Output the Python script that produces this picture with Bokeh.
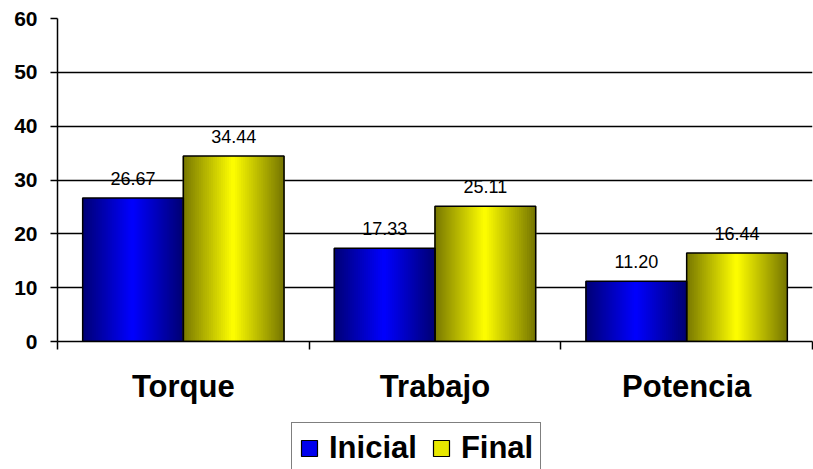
import numpy as np
from bokeh.plotting import figure
from bokeh.layouts import column
from bokeh.models import FixedTicker, Legend, LegendItem, ColumnDataSource, Range1d
from bokeh.embed import file_html
from bokeh.resources import INLINE
from bokeh.core.properties import value

categories = ["Torque", "Trabajo", "Potencia"]
inicial = [26.67, 17.33, 11.20]
final = [34.44, 25.11, 16.44]
y_ticks = [0, 10, 20, 30, 40, 50, 60]
series_names = ["Inicial", "Final"]

FONT = "Liberation Sans"

p = figure(width=813, height=410, output_backend="svg", toolbar_location=None,
           x_range=Range1d(0, 3), y_range=Range1d(0, 60),
           min_border_left=57, min_border_right=1, min_border_top=18,
           min_border_bottom=69)
p.outline_line_color = None
p.background_fill_color = "white"
p.border_fill_color = "white"

GAP = 0.1
BW = 0.4
N = 50


def gradient_strips(vals, offset, dark, bright):
    xs, tops, cols = [], [], []
    w = BW / N
    for i, v in enumerate(vals):
        for k in range(N):
            t = abs(2 * (k + 0.5) / N - 1)
            c = [int(round(b - (b - d) * t)) for b, d in zip(bright, dark)]
            xs.append(i + offset + (k + 0.5) * w)
            tops.append(v)
            cols.append("#%02x%02x%02x" % tuple(c))
    src = ColumnDataSource(dict(x=xs, top=tops, color=cols))
    p.vbar(x="x", top="top", bottom=0, width=w * 1.6, fill_color="color",
           line_color=None, source=src)


gradient_strips(inicial, GAP, (0, 0, 115), (0, 0, 255))
gradient_strips(final, GAP + BW, (118, 118, 0), (255, 255, 0))

centers_i = [i + GAP + BW / 2 for i in range(len(categories))]
centers_f = [i + GAP + BW * 1.5 for i in range(len(categories))]

p.vbar(x=centers_i, top=inicial, bottom=0, width=BW, fill_color=None,
       line_color="black", line_width=1.5)
p.vbar(x=centers_f, top=final, bottom=0, width=BW, fill_color=None,
       line_color="black", line_width=1.5)

for cx, vals in ((centers_i, inicial), (centers_f, final)):
    p.text(x=cx, y=vals, text=["%.2f" % v for v in vals], text_align="center",
           text_baseline="bottom", y_offset=-13, text_font=value(FONT),
           text_font_size="18px", text_color="black")

# axes
p.xgrid.grid_line_color = None
p.ygrid.grid_line_color = "black"
p.ygrid.grid_line_width = 1.5
p.ygrid.ticker = FixedTicker(ticks=y_ticks)

ya = p.yaxis[0]
ya.ticker = FixedTicker(ticks=y_ticks)
ya.axis_line_color = "black"
ya.axis_line_width = 1.5
ya.major_tick_line_color = "black"
ya.major_tick_line_width = 1.5
ya.major_tick_out = 7
ya.major_tick_in = 0
ya.minor_tick_line_color = None
ya.major_label_standoff = 13
ya.major_label_text_font = FONT
ya.major_label_text_font_style = "bold"
ya.major_label_text_font_size = "21px"
ya.major_label_text_color = "black"

xa = p.xaxis[0]
xa.ticker = FixedTicker(ticks=[i + 0.5 for i in range(len(categories))],
                        minor_ticks=list(range(len(categories) + 1)))
xa.major_label_overrides = {i + 0.5: c for i, c in enumerate(categories)}
xa.axis_line_color = "black"
xa.axis_line_width = 1.5
xa.major_tick_line_color = None
xa.minor_tick_line_color = "black"
xa.minor_tick_line_width = 1.5
xa.minor_tick_out = 8
xa.minor_tick_in = 0
xa.major_label_standoff = 19
xa.major_label_text_font = FONT
xa.major_label_text_font_style = "bold"
xa.major_label_text_font_size = "31px"
xa.major_label_text_color = "black"

# legend figure (frame aligned with the main one by the column layout)
q = figure(width=813, height=59, output_backend="svg", toolbar_location=None,
           x_range=Range1d(0, 1), y_range=Range1d(0, 1),
           x_axis_location=None, y_axis_location=None,
           min_border=0, min_border_left=0, min_border_right=0,
           min_border_top=0, min_border_bottom=0)
q.outline_line_color = None
q.grid.grid_line_color = None
q.background_fill_color = "white"
q.border_fill_color = "white"

# legend proxy renderers, placed outside the visible range
lb = q.quad(left=[-3], right=[-2], top=[-2], bottom=[-3], fill_color="#0000ee",
            line_color="black", line_width=1.2)
ly = q.quad(left=[-3], right=[-2], top=[-2], bottom=[-3], fill_color="#e8e800",
            line_color="black", line_width=1.2)

legend = Legend(items=[LegendItem(label=series_names[0], renderers=[lb]),
                       LegendItem(label=series_names[1], renderers=[ly])],
                orientation="horizontal", location=(234, -5))
legend.label_text_font = FONT
legend.label_text_font_style = "bold"
legend.label_text_font_size = "31px"
legend.label_text_color = "black"
legend.label_height = 36
legend.glyph_width = 20
legend.glyph_height = 20
legend.label_standoff = 10
legend.spacing = 14
legend.padding = 7
legend.margin = 0
legend.border_line_color = "black"
legend.border_line_width = 1.5
legend.background_fill_color = "white"
q.add_layout(legend, "center")

layout = column(p, q, spacing=0)
open("out.html", "w").write(file_html(layout, INLINE))
